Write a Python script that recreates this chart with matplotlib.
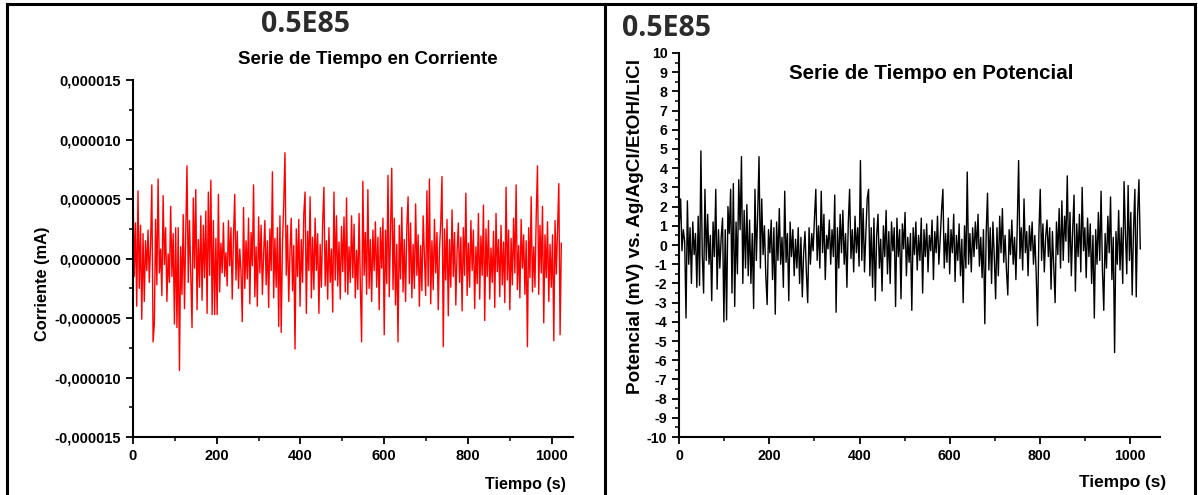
import numpy as np
import matplotlib
matplotlib.use("Agg")
import matplotlib.pyplot as plt
from matplotlib.lines import Line2D
from matplotlib.ticker import MultipleLocator

plt.rcParams['font.family'] = ['Liberation Sans', 'DejaVu Sans']
plt.rcParams['font.weight'] = 'bold'
plt.rcParams['axes.unicode_minus'] = False

# tiempo (s), una lectura cada 3 s
tiempo = np.arange(0, 1024, 3)

# corriente en unidades de 1e-6 mA, leida a ojo de la grafica
corriente = [
    6.2, -1.5, 3.0, -4.0, 5.7, -2.5, 2.8, -5.1, 2.1, -3.6, 1.5, -1.0, 2.4, -2.0, 1.2, 6.2, -7.0, -5.5, 3.3, -2.2,
    6.7, -1.2, 0.8, -3.1, 5.3, -0.5, 2.6, -3.6, 0.4, -2.0, 4.4, -1.5, 2.1, -5.5, 2.6, -5.8, 2.6, -9.4, 1.0, -3.0,
    3.7, -4.2, 2.2, 7.8, -2.0, 3.2, -1.4, -5.8, 5.1, -0.8, 5.8, -4.3, 1.6, -2.4, 3.6, -3.5, 2.8, -1.6, 4.0, -4.6,
    5.6, -1.4, 6.6, -4.7, 3.2, -4.7, 1.7, -4.7, 5.4, -2.8, 1.3, -1.2, 3.0, -1.5, 0.5, -2.3, 3.2, -0.6, 2.6, -3.4,
    1.8, 5.4, -1.8, 2.3, -2.5, 0.8, -1.1, -5.3, 4.3, -2.5, 1.5, -1.7, 3.4, -3.8, 2.2, -0.6, 6.2, -3.2, 1.0, -4.0,
    3.5, -1.2, 2.8, -3.0, 0.4, 3.2, -2.2, 1.5, -4.1, 2.5, -1.0, 7.3, -3.3, 1.7, -2.4, 2.6, -5.7, 3.6, -6.2, 1.2,
    4.6, 8.9, -1.4, 2.8, -3.6, 0.6, 3.4, -2.7, 1.1, -7.6, 2.5, -1.5, 3.3, -4.0, 1.6, -2.0, 3.8, 5.6, -4.6, 2.3,
    -1.0, 5.2, -3.3, 1.8, -2.6, 3.4, -1.0, 2.1, -4.6, 1.2, -2.4, 3.0, 6.0, -2.3, 1.5, -3.4, 2.6, -2.0, 0.8, -4.5,
    5.6, -1.8, 3.6, -2.3, 1.4, -3.4, 2.7, -1.1, 3.5, -2.8, 5.1, -3.0, 1.0, -2.0, 3.6, -1.6, 2.9, -3.3, 0.7, -2.6,
    3.8, -2.3, -7.0, 6.5, -1.4, 2.2, -3.0, 5.8, -2.5, 1.6, -3.6, 2.4, -1.0, 3.1, -2.4, 1.8, -4.3, 2.6, -0.8, 3.4,
    -6.4, 2.4, -2.1, 7.0, -3.2, 2.0, 7.6, -2.6, 3.4, -3.9, 1.2, -7.0, 2.8, -1.7, 4.3, -2.8, 1.6, -3.6, 2.6, 5.2,
    -2.1, 3.0, -3.3, 1.2, -2.5, 4.6, -1.4, 2.0, -4.0, 1.1, -2.7, 3.6, 0.2, -3.1, 5.7, -2.3, 6.7, -3.8, 1.5, -2.6,
    3.3, -1.2, 2.2, -4.3, 0.8, 3.0, 6.9, -7.4, 2.5, -1.8, 3.3, -4.8, 1.6, -2.4, 4.1, -1.5, 2.2, -3.9, 0.6, 3.0,
    -2.0, 1.8, -4.4, 2.6, -1.4, 5.5, -3.1, 1.3, -2.4, 3.2, -1.0, 2.4, -4.2, 1.0, -2.1, 3.8, -3.4, 1.9, -1.4, 4.5,
    -5.2, 2.5, -1.5, 3.2, -3.4, 0.9, -2.0, 2.3, -4.1, 3.8, -1.1, 1.6, -3.2, 2.8, -2.2, 1.4, -3.7, 6.0, -1.8, 2.4,
    -4.3, 1.7, -2.2, 3.4, -1.2, 6.2, -2.6, 1.1, -3.3, 3.3, -0.8, 2.0, -3.0, 1.5, -7.4, 2.6, -1.6, 5.2, -2.8, 1.0,
    -2.4, 3.6, 7.8, -3.0, 2.8, -1.2, 4.4, -5.4, 2.0, -1.6, 3.1, -3.6, 1.2, -2.4, 2.0, -6.9, 3.2, -1.3, 2.5, 6.3,
    -6.4, 1.3,
]

# potencial (mV) vs Ag/AgCl/EtOH/LiCl
potencial = [
    1.0, 2.4, -0.3, 0.8, 0.2, -3.8, 2.3, -1.0, 0.9, -2.0, 1.2, -0.5, 0.6, -2.2, 1.5, -2.1, 4.9, -0.5, -2.5, 2.9,
    -0.8, 1.6, -1.0, 0.5, -2.9, 1.2, -0.6, 2.9, -2.3, 0.8, -1.2, 0.4, 1.4, -4.0, 0.8, -3.9, 2.0, 0.6, 2.9, -2.5,
    3.2, -3.2, 1.2, -1.5, 3.4, 0.8, 4.6, -2.0, 1.8, -1.2, 2.1, -1.6, 1.3, -2.0, 0.6, -3.3, 2.9, -0.8, 1.6, 4.6,
    -1.2, 2.4, -0.5, 1.0, -1.6, -3.1, 0.8, -0.4, 1.3, -1.8, 0.9, -3.6, 1.2, -0.8, 1.9, -1.0, 0.4, -2.2, 2.8, -0.9,
    0.6, -2.9, 1.2, -0.6, 0.8, -1.6, 0.3, -1.2, 0.9, -2.0, 0.4, -2.7, -0.4, 0.7, -1.4, -3.0, 0.9, -1.0, 0.6, -0.3,
    1.4, 2.9, -0.8, 1.0, -1.2, 2.8, -0.4, 1.6, -1.8, 0.5, -0.2, 1.3, -1.0, 0.8, -0.6, 2.6, -3.5, 0.9, -1.2, 1.6,
    -0.4, 1.8, -1.0, 0.6, -2.2, 1.1, 2.9, -0.7, 0.8, -1.4, 1.5, -0.4, 0.9, -1.1, 4.4, -0.8, 1.9, -1.4, 0.6, 2.4,
    2.9, -1.6, 0.9, -2.2, 1.4, -2.9, 0.5, 1.6, -1.2, 0.3, -2.4, 1.0, -0.6, 1.8, -1.5, 0.7, -2.0, 1.2, -0.3, 0.9,
    -3.2, 1.4, -0.6, 0.8, -2.8, 1.1, -0.2, 1.7, -1.6, 0.4, -0.9, 0.6, -3.4, 0.9, -0.5, 1.2, -1.3, 0.5, -0.8, 1.4,
    -2.5, 0.8, -0.6, 1.1, -1.4, 0.5, -0.3, 1.3, -1.8, 0.7, -0.4, 1.5, -1.0, 0.3, 1.8, 2.9, -1.2, 0.6, -0.9, 1.4,
    -1.5, 0.8, -0.4, 1.6, -1.9, 0.5, -0.8, 1.1, -1.6, 0.3, -3.0, 1.0, -1.2, 3.8, -1.0, 0.6, -1.4, 0.9, -0.6, 1.2,
    -0.2, 1.6, -1.1, 0.4, -1.7, 0.8, -4.1, 0.6, 2.7, -1.3, 0.9, -2.0, 1.2, -0.6, -2.8, 0.9, -1.6, 1.5, -0.4, 1.9,
    -0.9, 0.5, -1.3, -2.6, 0.8, -0.5, 1.3, -1.0, 0.4, -1.8, 1.0, 4.4, -0.7, 0.9, -1.3, 2.4, -0.4, 0.7, -1.6, 1.0,
    -0.3, 1.2, -1.0, 0.5, -1.5, -4.2, 0.6, 2.9, -0.8, 1.1, -1.4, 0.4, 1.3, -0.6, 0.9, -2.3, 0.7, -1.1, -3.0, 1.2,
    -0.5, 1.9, -1.2, 2.3, -0.8, 1.5, 0.2, 3.6, -0.9, 1.7, -1.6, 0.8, 2.6, -2.4, 1.1, -0.6, 1.6, -1.4, 3.0, -0.3,
    0.9, -1.7, 1.4, -0.6, 1.1, -2.0, 0.5, -3.8, 0.8, -1.0, 1.7, -0.8, 2.8, -1.3, -3.4, 0.6, -1.2, 1.5, -0.4, 2.5,
    -1.8, 0.4, -5.6, 0.7, -1.0, 1.8, -1.3, 0.9, -2.0, 3.3, 0.6, -1.5, 3.1, -0.8, 1.7, -2.6, 0.8, 2.9, -2.7, 1.6,
    3.4, -0.2,
]

corr_ticks = [-15, -10, -5, 0, 5, 10, 15]
corr_labels = ['-0,000015', '-0,000010', '-0,000005', '0,000000',
               '0,000005', '0,000010', '0,000015']
pot_ticks = list(range(-10, 11))

fig = plt.figure(figsize=(11.98, 4.95), dpi=100)

def estilo(ax, xmax, lsize):
    for s in ['top', 'right']:
        ax.spines[s].set_visible(False)
    for s in ['left', 'bottom']:
        ax.spines[s].set_linewidth(1.5)
    ax.set_xlim(0, xmax)
    ax.xaxis.set_major_locator(MultipleLocator(200))
    ax.xaxis.set_minor_locator(MultipleLocator(100))
    ax.tick_params(which='major', direction='out', length=5, width=1.3, labelsize=lsize)
    ax.tick_params(which='minor', direction='out', length=3, width=1.1)
    for lab in ax.get_xticklabels() + ax.get_yticklabels():
        lab.set_fontweight('bold')

# panel izquierdo: corriente
ax1 = fig.add_axes([0.111, 0.117, 0.367, 0.721])
ax1.plot(tiempo, np.array(corriente) * 1e-6, color='red', lw=1.0)
ax1.set_ylim(-15e-6, 15e-6)
ax1.set_yticks([t * 1e-6 for t in corr_ticks])
ax1.set_yticklabels(corr_labels)
ax1.yaxis.set_minor_locator(MultipleLocator(2.5e-6))
estilo(ax1, 1050, 10.5)

# panel derecho: potencial
ax2 = fig.add_axes([0.567, 0.117, 0.401, 0.776])
ax2.plot(tiempo, potencial, color='black', lw=1.0)
ax2.set_ylim(-10, 10)
ax2.set_yticks(pot_ticks)
ax2.yaxis.set_minor_locator(MultipleLocator(0.5))
estilo(ax2, 1066, 10.2)

# textos
titulo = dict(family=['Open Sans', 'DejaVu Sans'], fontsize=20.5, fontweight='bold', color='#2b2b2b')
fig.text(306 / 1198, 1 - 25 / 495, '0.5E85', ha='center', va='center', **titulo)
fig.text(622 / 1198, 1 - 28 / 495, '0.5E85', ha='left', va='center', **titulo)
fig.text(368 / 1198, 1 - 60 / 495, 'Serie de Tiempo en Corriente', ha='center', va='center',
         fontsize=13.5, fontweight='bold')
fig.text(931 / 1198, 1 - 73 / 495, 'Serie de Tiempo en Potencial', ha='center', va='center',
         fontsize=14.8, fontweight='bold')
fig.text(43 / 1198, 1 - 284 / 495, 'Corriente (mA)', rotation=90, ha='center', va='center',
         fontsize=11.8, fontweight='bold')
fig.text(636 / 1198, 1 - 226 / 495, 'Potencial (mV) vs. Ag/AgCl/EtOH/LiCl', rotation=90,
         ha='center', va='center', fontsize=13.6, fontweight='bold')
fig.text(525 / 1198, 1 - 484 / 495, 'Tiempo (s)', ha='center', va='center',
         fontsize=11.6, fontweight='bold')
fig.text(1123 / 1198, 1 - 483 / 495, 'Tiempo (s)', ha='center', va='center',
         fontsize=12.4, fontweight='bold')

# bordes de la tabla
for xs, ys in [([7, 7], [4, 495]), ([605, 605], [4, 495]), ([1195, 1195], [4, 495]),
               ([7, 1195], [4, 4])]:
    fig.add_artist(Line2D([x / 1198 for x in xs], [1 - y / 495 for y in ys],
                          color='black', lw=2.2, transform=fig.transFigure))

fig.savefig('out.png', dpi=100)
